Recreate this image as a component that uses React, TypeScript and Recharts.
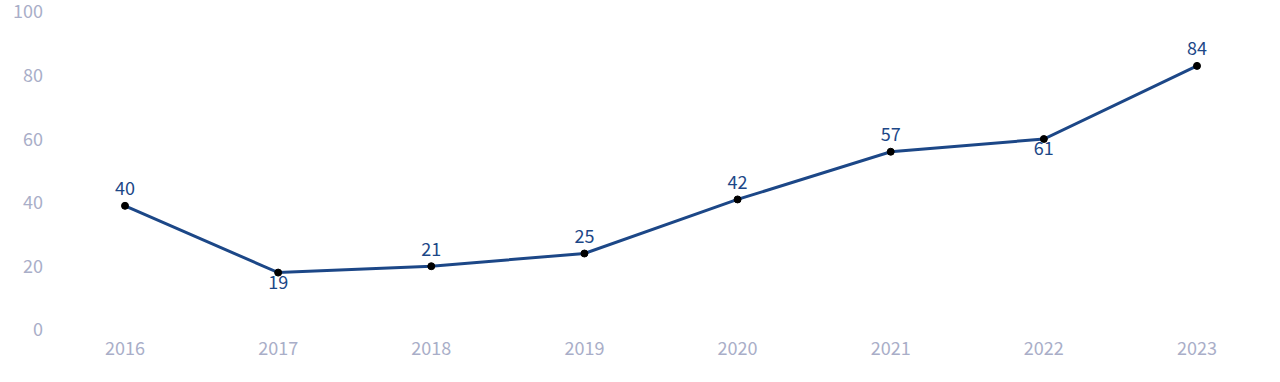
import React from "react";
import { LineChart, Line, XAxis, YAxis, LabelList } from "recharts";

const years = ["2016", "2017", "2018", "2019", "2020", "2021", "2022", "2023"];
const values = [40, 19, 21, 25, 42, 57, 61, 84];
const labelBelow = [false, true, false, false, false, false, true, false];
const yTicks = [0, 20, 40, 60, 80, 100];

const data = years.map((year, i) => ({ year, value: values[i], below: labelBelow[i] }));

const FONT = '"Noto Sans CJK SC", "Noto Sans", sans-serif';
const TICK_COLOR = "#a9aec8";
const LINE_COLOR = "#1c4787";

const YTick = ({ x, y, payload }: any) => (
  <text x={x} y={y - 3} dy="0.355em" textAnchor="end" fill={TICK_COLOR} fontSize={18} fontFamily={FONT}>
    {payload.value}
  </text>
);

const XTick = ({ x, y, payload }: any) => (
  <text x={x} y={y + 8} dy="0.355em" textAnchor="middle" fill={TICK_COLOR} fontSize={18} fontFamily={FONT}>
    {payload.value}
  </text>
);

const PointLabel = ({ x, y, value, index }: any) => {
  const below = data[index]?.below;
  return (
    <text
      x={x}
      y={below ? y + 10 : y - 17}
      dy="0.355em"
      textAnchor="middle"
      fill={LINE_COLOR}
      fontSize={18}
      fontFamily={FONT}
    >
      {value}
    </text>
  );
};

export default function App() {
  return (
    <div style={{ position: "absolute", left: 0, top: 0, background: "#fff" }}>
      <LineChart width={1280} height={382} data={data} margin={{ top: 15, right: 10, left: 0, bottom: 0 }}>
        <XAxis
          dataKey="year"
          axisLine={false}
          tickLine={false}
          height={49}
          padding={{ left: 74, right: 73 }}
          tick={<XTick />}
          interval={0}
        />
        <YAxis
          domain={[0, 100]}
          ticks={yTicks}
          axisLine={false}
          tickLine={false}
          width={51}
          tick={<YTick />}
        />
        <Line
          type="linear"
          dataKey="value"
          stroke={LINE_COLOR}
          strokeWidth={3}
          dot={{ r: 3.5, fill: "#000", stroke: "#000", strokeWidth: 1 }}
          activeDot={false}
          isAnimationActive={false}
        >
          <LabelList dataKey="value" content={<PointLabel />} />
        </Line>
      </LineChart>
    </div>
  );
}
